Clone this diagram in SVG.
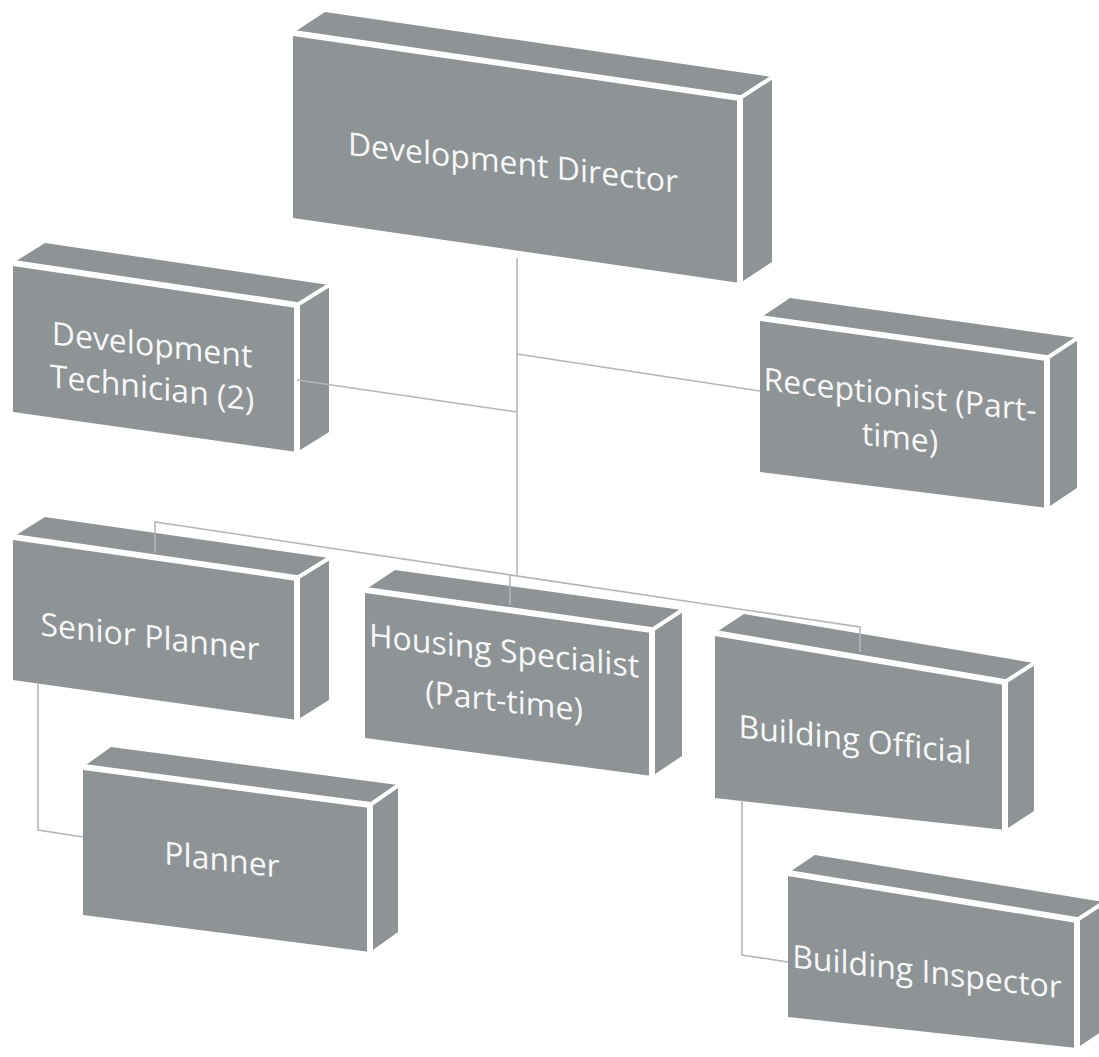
<svg xmlns="http://www.w3.org/2000/svg" width="1099" height="1057" viewBox="0 0 1099 1057">
<style>
.face{fill:#8e9395}
.edge{fill:none;stroke:#ffffff;stroke-width:6;stroke-linejoin:miter}
.diag{stroke:#ffffff;stroke-width:4}
.lbl{font-family:"Open Sans","Liberation Sans",sans-serif;font-size:32px;fill:#f7f7f7;text-anchor:middle}
.conn{fill:none;stroke:#b3b6b7;stroke-width:1.6}
</style>
<rect width="1099" height="1057" fill="#ffffff"/>

<g id="node-director">
<polygon class="face" points="293,33 740,98 772,77 325,12"/>
<polygon class="face" points="740,98 772,77 772,262 740,283"/>
<polygon class="face" points="293,33 740,98 740,283 293,218"/>
<polyline class="edge" points="290,32.5 740,98 740,286"/>
<line class="diag" x1="740" y1="98" x2="774" y2="76"/>
<g transform="translate(513,174) skewY(6.6)"><text class="lbl" x="0" y="0">Development Director</text></g>
</g>

<g id="node-devtech">
<polygon class="face" points="13,263 297,305 329,285 45,243"/>
<polygon class="face" points="297,305 329,285 329,432 297,452"/>
<polygon class="face" points="13,263 297,305 297,452 13,412"/>
<polyline class="edge" points="10,262.5 297,305 297,455"/>
<line class="diag" x1="297" y1="305" x2="331" y2="284"/>
<g transform="translate(152,356) skewY(6.6)"><text class="lbl" x="0" y="0">Development</text><text class="lbl" x="0" y="43">Technician (2)</text></g>
</g>

<g id="node-receptionist">
<polygon class="face" points="760,318 1047,358 1077,338 790,298"/>
<polygon class="face" points="1047,358 1077,338 1077,488 1047,508"/>
<polygon class="face" points="760,318 1047,358 1047,508 760,472"/>
<polyline class="edge" points="757,317.5 1047,358 1047,511"/>
<line class="diag" x1="1047" y1="358" x2="1079" y2="337"/>
<g transform="translate(900,406) skewY(6.6)"><text class="lbl" x="0" y="0">Receptionist (Part-</text><text class="lbl" x="0" y="43">time)</text></g>
</g>

<g id="node-senior-planner">
<polygon class="face" points="13,537 297,578 329,558 45,517"/>
<polygon class="face" points="297,578 329,558 329,700 297,720"/>
<polygon class="face" points="13,537 297,578 297,720 13,680"/>
<polyline class="edge" points="10,536.5 297,578 297,723"/>
<line class="diag" x1="297" y1="578" x2="331" y2="557"/>
<g transform="translate(150,648) skewY(6.6)"><text class="lbl" x="0" y="0">Senior Planner</text></g>
</g>

<g id="node-housing">
<polygon class="face" points="365,590 652,630 682,610 395,570"/>
<polygon class="face" points="652,630 682,610 682,756 652,776"/>
<polygon class="face" points="365,590 652,630 652,776 365,738"/>
<polyline class="edge" points="362,589.5 652,630 652,779"/>
<line class="diag" x1="652" y1="630" x2="684" y2="609"/>
<g transform="translate(504,662) skewY(6.6)"><text class="lbl" x="0" y="0">Housing Specialist</text><text class="lbl" x="0" y="50">(Part-time)</text></g>
</g>

<g id="node-building-official">
<polygon class="face" points="715,633 1005,682 1034,663 744,614"/>
<polygon class="face" points="1005,682 1034,663 1034,811 1005,830"/>
<polygon class="face" points="715,633 1005,682 1005,830 715,798"/>
<polyline class="edge" points="712,632.5 1005,682 1005,833"/>
<line class="diag" x1="1005" y1="682" x2="1036" y2="662"/>
<g transform="translate(855,751) skewY(6.6)"><text class="lbl" x="0" y="0">Building Official</text></g>
</g>

<g id="node-planner">
<polygon class="face" points="83,767 370,805 398,785 111,747"/>
<polygon class="face" points="370,805 398,785 398,932 370,952"/>
<polygon class="face" points="83,767 370,805 370,952 83,915"/>
<polyline class="edge" points="80,766.5 370,805 370,955"/>
<line class="diag" x1="370" y1="805" x2="400" y2="784"/>
<g transform="translate(222,871) skewY(6.6)"><text class="lbl" x="0" y="0">Planner</text></g>
</g>

<g id="node-building-inspector">
<polygon class="face" points="788,873 1077,920 1104,902 815,855"/>
<polygon class="face" points="1077,920 1104,902 1104,1030 1077,1048"/>
<polygon class="face" points="788,873 1077,920 1077,1048 788,1017"/>
<polyline class="edge" points="785,872.5 1077,920 1077,1051"/>
<line class="diag" x1="1077" y1="920" x2="1106" y2="901"/>
<g transform="translate(927,983) skewY(6.6)"><text class="lbl" x="0" y="0">Building Inspector</text></g>
</g>

<g id="connectors">
<line class="conn" x1="517" y1="258" x2="517" y2="576"/>
<line class="conn" x1="297" y1="380" x2="517" y2="412"/>
<line class="conn" x1="517" y1="354" x2="760" y2="391"/>
<polyline class="conn" points="155,553 155,522 860,627 860,652"/>
<line class="conn" x1="510" y1="575" x2="510" y2="605"/>
<polyline class="conn" points="38,684 38,830 83,837"/>
<polyline class="conn" points="742,800 742,955 788,962"/>
</g>
</svg>
